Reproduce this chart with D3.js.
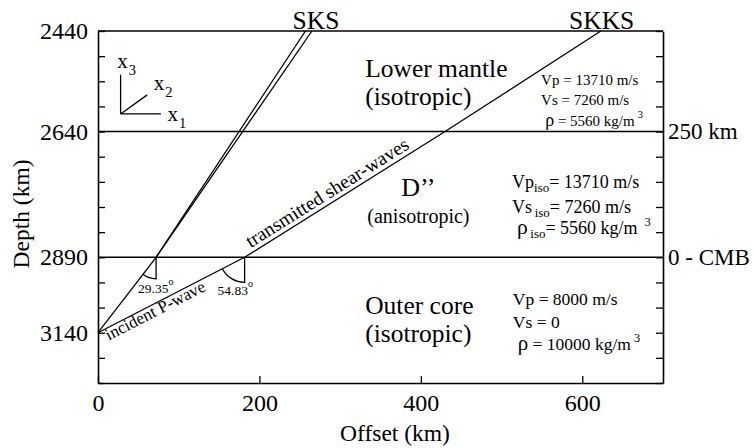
<!DOCTYPE html>
<html>
<head>
<meta charset="utf-8">
<script src="https://cdn.jsdelivr.net/npm/d3@7"></script>
<style>
  html, body { margin: 0; padding: 0; background: #fff; }
  svg { display: block; font-family: "Liberation Serif", "Times New Roman", serif; }
</style>
</head>
<body>
<svg id="chart" width="754" height="448"></svg>
<script>
// ---- Axes -------------------------------------------------------------
const offsetDomain = [0, 700];                 // km
const offsetTicks = [0, 200, 400, 600];
const depthLabels = [2440, 2640, 2890, 3140];  // labelled depths (km)
const depthBreaks = [2440, 2890, 3140, 3306.7];// depth scale pieces (km)
const depthTicks = [2440, 2490, 2540, 2590, 2640, 2690, 2740, 2790, 2840,
                    2890, 2973.3, 3056.7, 3140, 3223.3, 3306.7];

// ---- Layer boundaries -------------------------------------------------
const boundaryDepths = [2640, 2890];
const boundaryNames = ["250 km", "0 - CMB"];

// ---- Layers and their properties --------------------------------------
const layerNames = ["Lower mantle", "D\u2019\u2019", "Outer core"];
const layerKinds = ["(isotropic)", "(anisotropic)", "(isotropic)"];
const layerVp = [13710, 13710, 8000];   // m/s
const layerVs = [7260, 7260, 0];        // m/s
const layerRho = [5560, 5560, 10000];   // kg/m^3

// ---- Ray paths (offset km, depth km) ----------------------------------
const source = [0, 3140];
const sourceHeight = 128;                 // km below the CMB
const incidenceAngles = [29.35, 54.83];   // degrees at the CMB: SKS, SKKS
const sksFastTop = [257, 2440];
const sksSlowTop = [265, 2440];
const skksUpper = [[430, 2640], [623, 2440]];
const phaseNames = ["SKS", "SKKS"];

(function draw() {
  // ---- Frame ----------------------------------------------------------
  const mLeft = 98, mRight = 663, mTop = 31, mBottom = 383;
  const unit = (mBottom - mTop) / 14;

  const svg = d3.select("#chart");
  const x = d3.scaleLinear().domain(offsetDomain).range([mLeft, mRight]);
  const y = d3.scaleLinear().domain(depthBreaks)
    .range([mTop, mTop + 9 * unit, mTop + 12 * unit, mBottom]);

  const ink = "#000";

  // Left axis: inward ticks, labels at the named depths
  const gL = svg.append("g").attr("transform", `translate(${mLeft},0)`)
    .call(d3.axisLeft(y).tickValues(depthTicks).tickSizeInner(-7).tickSizeOuter(0)
      .tickPadding(10).tickFormat(d => depthLabels.includes(d) ? d : ""));
  // Right axis: inward ticks only
  const gR = svg.append("g").attr("transform", `translate(${mRight},0)`)
    .call(d3.axisRight(y).tickValues(depthTicks).tickSizeInner(-7).tickSizeOuter(0)
      .tickFormat(""));
  // Bottom axis
  const gB = svg.append("g").attr("transform", `translate(0,${mBottom})`)
    .call(d3.axisBottom(x).tickValues(offsetTicks).tickSizeInner(-7).tickSizeOuter(0)
      .tickPadding(11));
  [gL, gR, gB].forEach(g => {
    g.select(".domain").attr("stroke", ink).attr("stroke-width", 1.6);
    g.selectAll(".tick line").attr("stroke", ink).attr("stroke-width", 1.3);
    g.selectAll(".tick text").attr("fill", ink).style("font-size", "24px")
      .style("font-family", "Liberation Serif, serif");
  });
  // Top frame edge
  svg.append("line").attr("x1", x(offsetDomain[0])).attr("x2", x(offsetDomain[1]))
    .attr("y1", y(depthBreaks[0])).attr("y2", y(depthBreaks[0]))
    .attr("stroke", ink).attr("stroke-width", 1.6);

  // Axis titles
  svg.append("text").attr("x", 395).attr("y", 441).attr("text-anchor", "middle")
    .style("font-size", "23.5px").text("Offset (km)");
  svg.append("text").attr("transform", "translate(29,214) rotate(-90)")
    .attr("text-anchor", "middle").style("font-size", "23.5px").text("Depth (km)");

  // Layer boundaries with their names on the right
  boundaryDepths.forEach((d, i) => {
    svg.append("line").attr("x1", x(offsetDomain[0])).attr("x2", x(offsetDomain[1]))
      .attr("y1", y(d)).attr("y2", y(d)).attr("stroke", ink).attr("stroke-width", 1.4);
    svg.append("text").attr("x", x(offsetDomain[1]) + 5).attr("y", y(d)).attr("dy", "0.33em")
      .style("font-size", "23px").text(boundaryNames[i]);
  });

  // ---- Rays -------------------------------------------------------------
  const line = d3.line().x(d => x(d[0])).y(d => y(d[1]));
  const cmb = boundaryDepths[1];
  const crossings = incidenceAngles.map(a =>
    [source[0] + sourceHeight * Math.tan(a * Math.PI / 180), cmb]);

  const rays = [
    [source, crossings[0]],                 // SKS incident P
    [crossings[0], sksFastTop],             // SKS split shear waves
    [crossings[0], sksSlowTop],
    [source, crossings[1]],                 // SKKS incident P
    [crossings[1], ...skksUpper]            // SKKS transmitted S
  ];
  svg.append("g").selectAll("path").data(rays).join("path")
    .attr("d", line).attr("fill", "none").attr("stroke", ink).attr("stroke-width", 1.3)
    .attr("stroke-linejoin", "round");

  // Phase names above the frame
  svg.append("text").attr("x", x(270)).attr("y", y(2440) - 2).attr("text-anchor", "middle")
    .style("font-size", "25.5px").text(phaseNames[0]);
  svg.append("text").attr("x", x(624)).attr("y", y(2440) - 2).attr("text-anchor", "middle")
    .style("font-size", "25.5px").text(phaseNames[1]);

  // ---- Incidence angle marks -------------------------------------------
  const arcRadius = [21.5, 25];
  const angleLabelOffset = [[-18, 36], [-27, 37.5]];
  crossings.forEach((c, i) => {
    const cx = x(c[0]), cy = y(c[1]);
    const sx = x(source[0]), sy = y(source[1]);
    const a = Math.atan2(cx - sx, sy - cy);   // screen angle from the vertical
    const r = arcRadius[i];
    const p = d3.path();
    p.moveTo(cx, cy);
    p.lineTo(cx, cy + r);
    p.arc(cx, cy, r, Math.PI / 2, Math.PI / 2 + a, false);
    svg.append("path").attr("d", p.toString()).attr("fill", "none")
      .attr("stroke", ink).attr("stroke-width", 1.3);
    const t = svg.append("text").attr("x", cx + angleLabelOffset[i][0])
      .attr("y", cy + angleLabelOffset[i][1]).style("font-size", "13.5px");
    t.append("tspan").text(incidenceAngles[i].toFixed(2));
    t.append("tspan").attr("dy", -8).style("font-size", "10px").text("o");
  });

  // ---- Labels running along the rays -------------------------------------
  function alongRay(p0, p1, text, along, offset, size) {
    const x0 = x(p0[0]), y0 = y(p0[1]), x1 = x(p1[0]), y1 = y(p1[1]);
    const ang = Math.atan2(y1 - y0, x1 - x0) * 180 / Math.PI;
    svg.append("text").attr("transform", `translate(${x0},${y0}) rotate(${ang})`)
      .attr("x", along).attr("y", offset).style("font-size", size + "px").text(text);
  }
  alongRay(source, crossings[1], "incident P-wave", 6, 12, 17);
  alongRay(crossings[1], skksUpper[0], "transmitted shear-waves", 10, -4.5, 19.5);

  // ---- Layer names -------------------------------------------------------
  const nameSpots = [
    { x: 331, d: [2531.5, 2587], anchor: "start", size: [25.5, 25.5] },
    { x: 397, d: [2769, 2822], anchor: "middle", size: [26, 20] },
    { x: 331, d: [3078, 3171], anchor: "start", size: [25.5, 25.5] }
  ];
  nameSpots.forEach((s, i) => {
    svg.append("text").attr("x", x(s.x)).attr("y", y(s.d[0])).attr("text-anchor", s.anchor)
      .style("font-size", s.size[0] + "px").text(layerNames[i]);
    svg.append("text").attr("x", x(s.x)).attr("y", y(s.d[1])).attr("text-anchor", s.anchor)
      .style("font-size", s.size[1] + "px").text(layerKinds[i]);
  });

  // ---- Layer properties ----------------------------------------------------
  const propSpots = [
    { x: 549, xr: 554, d: [2547, 2588, 2629], size: 15, iso: false },
    { x: 513, xr: 519, d: [2752, 2801, 2844], size: 18, iso: true },
    { x: 514, xr: 520, d: [3048, 3124, 3197], size: 17.5, iso: false }
  ];
  propSpots.forEach((s, i) => {
    const fs = s.size;
    const sub = s.iso ? "iso" : null;
    // Vp
    let t = svg.append("text").attr("x", x(s.x)).attr("y", y(s.d[0])).style("font-size", fs + "px");
    t.append("tspan").text("Vp");
    if (sub) {
      t.append("tspan").attr("dy", 4).style("font-size", (fs * 0.72) + "px").text(sub);
      t.append("tspan").attr("dy", -4).text("= " + layerVp[i] + " m/s");
    } else t.append("tspan").text(" = " + layerVp[i] + " m/s");
    // Vs
    t = svg.append("text").attr("x", x(s.x)).attr("y", y(s.d[1])).style("font-size", fs + "px");
    t.append("tspan").text("Vs");
    const vsText = layerVs[i] === 0 ? String(layerVs[i]) : layerVs[i] + " m/s";
    if (sub) {
      t.append("tspan").attr("dy", 4).style("font-size", (fs * 0.72) + "px").text("\u2009" + sub);
      t.append("tspan").attr("dy", -4).text("= " + vsText);
    } else t.append("tspan").text(" = " + vsText);
    // density
    t = svg.append("text").attr("x", x(s.xr)).attr("y", y(s.d[2])).style("font-size", fs + "px");
    t.append("tspan").style("font-size", (fs * 1.2) + "px").text("\u03c1");
    if (sub) {
      t.append("tspan").attr("dy", 4).style("font-size", (fs * 0.72) + "px").text("\u2009" + sub);
      t.append("tspan").attr("dy", -4).text("= " + layerRho[i] + " kg/m");
    } else t.append("tspan").text(" = " + layerRho[i] + " kg/m");
    t.append("tspan").attr("dy", -8).attr("dx", sub ? 7 : 3)
      .style("font-size", (fs * 0.7) + "px").text("3");
  });

  // ---- Coordinate triad ------------------------------------------------
  const triadOrigin = [28, 2605];
  const triadEnds = [[78, 2605], [61, 2567], [28, 2527]];
  const triadNames = ["1", "2", "3"];
  const triadLabelAt = [[86, 2618], [69, 2558], [24, 2514]];
  triadEnds.forEach((e, i) => {
    svg.append("path").attr("d", line([triadOrigin, e])).attr("fill", "none")
      .attr("stroke", ink).attr("stroke-width", 1.3);
    const t = svg.append("text").attr("x", x(triadLabelAt[i][0])).attr("y", y(triadLabelAt[i][1]))
      .style("font-size", "21px");
    t.append("tspan").text("x");
    t.append("tspan").attr("dy", 7).attr("dx", 1).style("font-size", "14.5px").text(triadNames[i]);
  });
})();
</script>
</body>
</html>
